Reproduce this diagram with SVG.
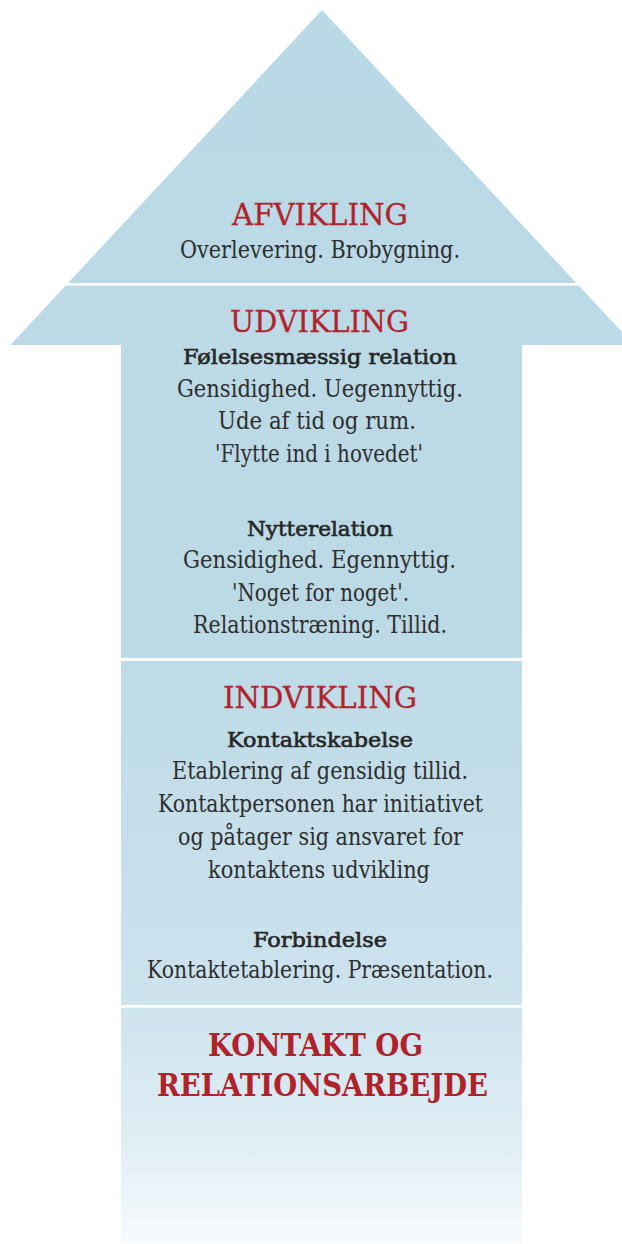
<svg xmlns="http://www.w3.org/2000/svg" width="622" height="1244" viewBox="0 0 622 1244">
<defs>
<linearGradient id="fill" gradientUnits="userSpaceOnUse" x1="0" y1="0" x2="0" y2="1244">
<stop offset="0" stop-color="#BAD9E6"/>
<stop offset="0.5" stop-color="#BCDAE6"/>
<stop offset="0.8" stop-color="#CCE3EE"/>
<stop offset="0.92" stop-color="#E1EEF5"/>
<stop offset="1" stop-color="#F7FBFD"/>
</linearGradient>
<style>
.h{font-family:"DejaVu Serif","Liberation Serif",serif;font-size:30.5px;fill:#B0232B;stroke:#B0232B;stroke-width:0.3;text-anchor:middle}
.hb{font-family:"DejaVu Serif","Liberation Serif",serif;font-size:31px;font-weight:bold;fill:#B0232B;text-anchor:middle}
.s{font-family:"DejaVu Serif","Liberation Serif",serif;font-size:20.5px;fill:#262626;stroke:#262626;stroke-width:0.6;text-anchor:middle}
.b{font-family:"DejaVu Serif","Liberation Serif",serif;font-size:23.5px;fill:#2E2E2E;text-anchor:middle}
.sep{fill:#FFFFFF}
</style>
</defs>
<g id="arrow">
<path d="M322,10 L634,345 L522,345 L522,1243 L121,1243 L121,345 L10.4,345 Z" fill="url(#fill)"/>
<rect class="sep" x="0" y="283" width="622" height="2.6"/>
<rect class="sep" x="0" y="658" width="622" height="3"/>
<rect class="sep" x="0" y="1005" width="622" height="2.7"/>
</g>
<g id="afvikling">
<text class="h" x="320" y="225" textLength="176" lengthAdjust="spacingAndGlyphs">AFVIKLING</text>
<text class="b" x="320" y="258" textLength="280" lengthAdjust="spacingAndGlyphs">Overlevering. Brobygning.</text>
</g>
<g id="udvikling">
<text class="h" x="319.5" y="331.7" textLength="179" lengthAdjust="spacingAndGlyphs">UDVIKLING</text>
<text class="s" x="320" y="364" textLength="274" lengthAdjust="spacingAndGlyphs">Følelsesmæssig relation</text>
<text class="b" x="320" y="396.7" textLength="286" lengthAdjust="spacingAndGlyphs">Gensidighed. Uegennyttig.</text>
<text class="b" x="317" y="428.5" textLength="198" lengthAdjust="spacingAndGlyphs">Ude af tid og rum.</text>
<text class="b" x="319" y="461.5" textLength="208" lengthAdjust="spacingAndGlyphs">'Flytte ind i hovedet'</text>
<text class="s" x="320" y="536" textLength="146" lengthAdjust="spacingAndGlyphs">Nytterelation</text>
<text class="b" x="319.5" y="568" textLength="273" lengthAdjust="spacingAndGlyphs">Gensidighed. Egennyttig.</text>
<text class="b" x="320.5" y="600.7" textLength="177" lengthAdjust="spacingAndGlyphs">'Noget for noget'.</text>
<text class="b" x="320" y="633" textLength="254" lengthAdjust="spacingAndGlyphs">Relationstræning. Tillid.</text>
</g>
<g id="indvikling">
<text class="h" x="320" y="707.7" textLength="194" lengthAdjust="spacingAndGlyphs">INDVIKLING</text>
<text class="s" x="320" y="746.7" textLength="186" lengthAdjust="spacingAndGlyphs">Kontaktskabelse</text>
<text class="b" x="320" y="779" textLength="296" lengthAdjust="spacingAndGlyphs">Etablering af gensidig tillid.</text>
<text class="b" x="320.5" y="811.7" textLength="325" lengthAdjust="spacingAndGlyphs">Kontaktpersonen har initiativet</text>
<text class="b" x="320.5" y="844.5" textLength="285" lengthAdjust="spacingAndGlyphs">og påtager sig ansvaret for</text>
<text class="b" x="319" y="877.5" textLength="222" lengthAdjust="spacingAndGlyphs">kontaktens udvikling</text>
<text class="s" x="320" y="946.7" textLength="134" lengthAdjust="spacingAndGlyphs">Forbindelse</text>
<text class="b" x="320" y="978" textLength="346" lengthAdjust="spacingAndGlyphs">Kontaktetablering. Præsentation.</text>
</g>
<g id="kontakt">
<text class="hb" x="315.5" y="1056" textLength="215" lengthAdjust="spacingAndGlyphs">KONTAKT OG</text>
<text class="hb" x="322.5" y="1096" textLength="331" lengthAdjust="spacingAndGlyphs">RELATIONSARBEJDE</text>
</g>
<g id="connectors"></g>
</svg>
